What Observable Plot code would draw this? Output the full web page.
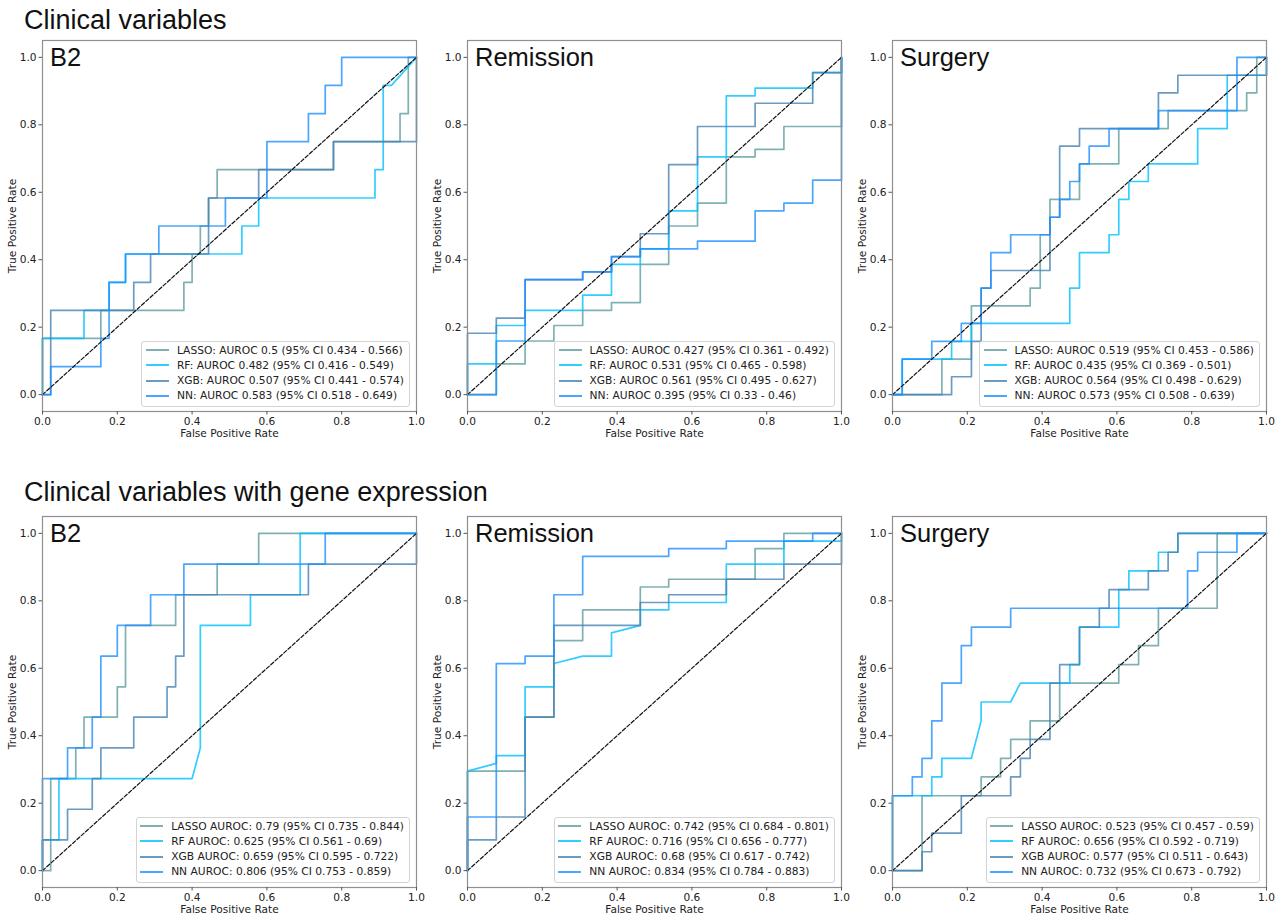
<!DOCTYPE html>
<html>
<head>
<meta charset="utf-8">
<script src="https://cdn.jsdelivr.net/npm/d3@7"></script>
<script src="https://cdn.jsdelivr.net/npm/@observablehq/plot@0.6"></script>
<style>
  body { margin: 0; background: #fff; }
  #root { position: relative; width: 1286px; height: 914px; overflow: hidden; background: #fff; font-family: "DejaVu Sans", sans-serif; }
  .sup { position: absolute; left: 24px; font-family: "Liberation Sans", Arial, sans-serif; font-size: 27px; line-height: 1; color: #111; white-space: nowrap; }
  .panel { position: absolute; }
  .panel svg { max-width: none; display: block; }
  .legend { position: absolute; background: rgba(255,255,255,0.85); border: 1px solid #d4d4d4; border-radius: 3px;
            padding: 1px 5px 2px 3.5px; font-family: "DejaVu Sans", sans-serif; font-size: 10.7px; line-height: 15.2px; color: #222; white-space: nowrap; }
  .legend .row { display: flex; align-items: center; }
  .legend .sw { width: 23px; height: 2px; opacity: 0.8; margin-right: 8px; }
</style>
</head>
<body>
<div id="root"></div>
<script>
// ---------- data ----------
const models = ["LASSO", "RF", "XGB", "NN"];
const modelColors = ["#5f9ea0", "#00bfff", "#4682b4", "#1e90ff"];
const rowTitles = ["Clinical variables", "Clinical variables with gene expression"];
const panelTitles = ["B2", "Remission", "Surgery"];
const ticks = [0, 0.2, 0.4, 0.6, 0.8, 1.0];
const diagonal = [[0, 0], [1, 1]];

// Clinical variables – B2
const clinB2Lasso = [[0,0],[0,.167],[.156,.167],[.156,.25],[.378,.25],[.378,.333],[.4,.333],[.4,.417],[.422,.417],[.422,.5],[.444,.5],[.444,.583],[.467,.583],[.467,.667],[.778,.667],[.778,.75],[.956,.75],[.956,.833],[.978,.833],[.978,1],[1,1]];
const clinB2Rf = [[0,0],[0,.167],[.111,.167],[.111,.25],[.178,.25],[.178,.333],[.222,.333],[.222,.417],[.533,.417],[.533,.5],[.578,.5],[.578,.583],[.889,.583],[.889,.667],[.911,.667],[.911,.917],[.933,.917],[1,1]];
const clinB2Xgb = [[0,0],[.022,0],[.022,.25],[.244,.25],[.244,.333],[.289,.333],[.289,.417],[.444,.417],[.444,.583],[.578,.583],[.578,.667],[.778,.667],[.778,.75],[1,.75],[1,1]];
const clinB2Nn = [[0,0],[.022,0],[.022,.083],[.156,.083],[.156,.167],[.178,.167],[.178,.333],[.222,.333],[.222,.417],[.311,.417],[.311,.5],[.489,.5],[.489,.583],[.6,.583],[.6,.75],[.711,.75],[.711,.833],[.756,.833],[.756,.917],[.8,.917],[.8,1],[1,1]];
const clinB2Legend = ["LASSO: AUROC 0.5 (95% CI 0.434 - 0.566)", "RF: AUROC 0.482 (95% CI 0.416 - 0.549)", "XGB: AUROC 0.507 (95% CI 0.441 - 0.574)", "NN: AUROC 0.583 (95% CI 0.518 - 0.649)"];

// Clinical variables – Remission
const clinRemLasso = [[0,0],[.077,0],[.077,.091],[.154,.091],[.154,.159],[.231,.159],[.231,.205],[.308,.205],[.308,.25],[.385,.25],[.385,.273],[.462,.273],[.462,.386],[.538,.386],[.538,.5],[.615,.5],[.615,.568],[.692,.568],[.692,.705],[.769,.705],[.769,.727],[.846,.727],[.846,.795],[1,.795],[1,1]];
const clinRemRf = [[0,0],[0,.091],[.077,.091],[.077,.205],[.154,.205],[.154,.25],[.308,.25],[.308,.295],[.385,.295],[.385,.386],[.462,.386],[.462,.432],[.538,.432],[.538,.545],[.615,.545],[.615,.705],[.692,.705],[.692,.886],[.769,.886],[.769,.909],[.923,.909],[.923,.955],[1,.955],[1,1]];
const clinRemXgb = [[0,0],[0,.182],[.077,.182],[.077,.227],[.154,.227],[.154,.341],[.308,.341],[.308,.364],[.385,.364],[.385,.409],[.462,.409],[.462,.477],[.538,.477],[.538,.682],[.615,.682],[.615,.795],[.769,.795],[.769,.864],[.923,.864],[.923,.955],[1,.955],[1,1]];
const clinRemNn = [[0,0],[.077,0],[.077,.159],[.154,.159],[.154,.341],[.308,.341],[.308,.364],[.385,.364],[.385,.409],[.462,.409],[.462,.432],[.615,.432],[.615,.455],[.769,.455],[.769,.545],[.846,.545],[.846,.568],[.923,.568],[.923,.636],[1,.636],[1,1]];
const clinRemLegend = ["LASSO: AUROC 0.427 (95% CI 0.361 - 0.492)", "RF: AUROC 0.531 (95% CI 0.465 - 0.598)", "XGB: AUROC 0.561 (95% CI 0.495 - 0.627)", "NN: AUROC 0.395 (95% CI 0.33 - 0.46)"];

// Clinical variables – Surgery
const clinSurLasso = [[0,0],[.132,0],[.132,.105],[.211,.105],[.211,.263],[.368,.263],[.368,.316],[.395,.316],[.395,.474],[.421,.474],[.421,.579],[.5,.579],[.5,.684],[.605,.684],[.605,.789],[.737,.789],[.737,.842],[.947,.842],[.947,.895],[.974,.895],[.974,1],[1,1]];
const clinSurRf = [[0,0],[.026,0],[.026,.105],[.158,.105],[.158,.158],[.211,.158],[.211,.211],[.474,.211],[.474,.316],[.5,.316],[.5,.421],[.579,.421],[.579,.474],[.605,.474],[.605,.579],[.632,.579],[.632,.632],[.684,.632],[.684,.684],[.816,.684],[.816,.789],[.895,.789],[.895,.947],[1,.947],[1,1]];
const clinSurXgb = [[0,0],[.158,0],[.158,.053],[.211,.053],[.211,.158],[.237,.158],[.237,.316],[.263,.316],[.263,.368],[.421,.368],[.421,.526],[.447,.526],[.447,.737],[.5,.737],[.5,.789],[.711,.789],[.711,.895],[.763,.895],[.763,.947],[1,.947],[1,1]];
const clinSurNn = [[0,0],[.026,0],[.026,.105],[.105,.105],[.105,.158],[.184,.158],[.184,.211],[.237,.211],[.237,.316],[.263,.316],[.263,.421],[.316,.421],[.316,.474],[.421,.474],[.421,.526],[.447,.526],[.447,.579],[.474,.579],[.474,.632],[.5,.632],[.5,.684],[.526,.684],[.526,.737],[.579,.737],[.579,.789],[.711,.789],[.711,.842],[.921,.842],[.921,1],[1,1]];
const clinSurLegend = ["LASSO: AUROC 0.519 (95% CI 0.453 - 0.586)", "RF: AUROC 0.435 (95% CI 0.369 - 0.501)", "XGB: AUROC 0.564 (95% CI 0.498 - 0.629)", "NN: AUROC 0.573 (95% CI 0.508 - 0.639)"];

// Clinical variables with gene expression – B2
const geneB2Lasso = [[0,0],[.022,0],[.022,.273],[.089,.273],[.089,.364],[.111,.364],[.111,.455],[.2,.455],[.2,.545],[.222,.545],[.222,.727],[.356,.727],[.356,.818],[.467,.818],[.467,.909],[.578,.909],[.578,1],[1,1]];
const geneB2Rf = [[0,0],[0,.091],[.044,.091],[.044,.273],[.4,.273],[.422,.364],[.422,.727],[.556,.727],[.556,.818],[.689,.818],[.689,1],[1,1]];
const geneB2Xgb = [[0,0],[0,.091],[.067,.091],[.067,.182],[.133,.182],[.133,.273],[.156,.273],[.156,.364],[.244,.364],[.244,.455],[.333,.455],[.333,.545],[.356,.545],[.356,.636],[.378,.636],[.378,.818],[.711,.818],[.711,.909],[1,.909],[1,1]];
const geneB2Nn = [[0,0],[0,.273],[.067,.273],[.067,.364],[.133,.364],[.133,.455],[.156,.455],[.156,.636],[.2,.636],[.2,.727],[.289,.727],[.289,.818],[.378,.818],[.378,.909],[.756,.909],[.756,1],[1,1]];
const geneB2Legend = ["LASSO AUROC: 0.79 (95% CI 0.735 - 0.844)", "RF AUROC: 0.625 (95% CI 0.561 - 0.69)", "XGB AUROC: 0.659 (95% CI 0.595 - 0.722)", "NN AUROC: 0.806 (95% CI 0.753 - 0.859)"];

// Clinical variables with gene expression – Remission
const geneRemLasso = [[0,0],[0,.295],[.154,.295],[.154,.455],[.231,.455],[.231,.682],[.308,.682],[.308,.773],[.462,.773],[.462,.841],[.538,.841],[.538,.864],[.769,.864],[.769,.955],[.846,.955],[.846,1],[1,1]];
const geneRemRf = [[0,0],[0,.295],[.077,.318],[.077,.341],[.154,.341],[.154,.545],[.231,.545],[.231,.614],[.308,.636],[.385,.636],[.385,.705],[.462,.727],[.462,.773],[.538,.773],[.538,.795],[.692,.795],[.692,.909],[.846,.909],[.846,.977],[1,.977],[1,1]];
const geneRemXgb = [[0,0],[0,.091],[.077,.091],[.077,.159],[.154,.159],[.154,.455],[.231,.455],[.231,.727],[.462,.727],[.462,.795],[.538,.795],[.538,.818],[.692,.818],[.692,.864],[.846,.864],[.846,.909],[1,.909],[1,1]];
const geneRemNn = [[0,0],[0,.159],[.077,.159],[.077,.614],[.154,.614],[.154,.636],[.231,.636],[.231,.818],[.308,.818],[.308,.932],[.538,.932],[.538,.955],[.692,.955],[.692,.977],[.923,.977],[.923,1],[1,1]];
const geneRemLegend = ["LASSO AUROC: 0.742 (95% CI 0.684 - 0.801)", "RF AUROC: 0.716 (95% CI 0.656 - 0.777)", "XGB AUROC: 0.68 (95% CI 0.617 - 0.742)", "NN AUROC: 0.834 (95% CI 0.784 - 0.883)"];

// Clinical variables with gene expression – Surgery
const geneSurLasso = [[0,0],[.079,0],[.079,.222],[.237,.222],[.237,.278],[.289,.278],[.289,.333],[.316,.333],[.316,.389],[.368,.389],[.368,.444],[.447,.444],[.447,.556],[.605,.556],[.605,.611],[.658,.611],[.658,.667],[.711,.667],[.711,.778],[.868,.778],[.868,1],[1,1]];
const geneSurRf = [[0,0],[0,.222],[.105,.222],[.105,.278],[.132,.278],[.132,.333],[.211,.333],[.237,.444],[.237,.5],[.316,.5],[.342,.556],[.474,.556],[.474,.611],[.5,.611],[.5,.722],[.605,.722],[.605,.833],[.632,.833],[.632,.889],[.711,.889],[.711,.944],[.763,.944],[.763,1],[1,1]];
const geneSurXgb = [[0,0],[.079,0],[.079,.056],[.105,.056],[.105,.111],[.184,.111],[.184,.222],[.316,.222],[.316,.278],[.342,.278],[.342,.333],[.368,.333],[.368,.389],[.421,.389],[.421,.556],[.447,.556],[.447,.611],[.5,.611],[.5,.722],[.553,.722],[.553,.778],[.579,.778],[.579,.833],[.684,.833],[.684,.889],[.737,.889],[.737,.944],[.763,.944],[.763,1],[1,1]];
const geneSurNn = [[0,0],[0,.222],[.053,.222],[.053,.278],[.079,.278],[.079,.333],[.105,.333],[.105,.444],[.132,.444],[.132,.556],[.184,.556],[.184,.667],[.211,.667],[.211,.722],[.316,.722],[.316,.778],[.789,.778],[.789,.889],[.816,.889],[.816,.944],[.921,.944],[.921,1],[1,1]];
const geneSurLegend = ["LASSO AUROC: 0.523 (95% CI 0.457 - 0.59)", "RF AUROC: 0.656 (95% CI 0.592 - 0.719)", "XGB AUROC: 0.577 (95% CI 0.511 - 0.643)", "NN AUROC: 0.732 (95% CI 0.673 - 0.792)"];

// ---------- layout ----------
const frameLefts = [42, 467, 892];
const frameTops = [40, 516];
const frameW = 374, frameH = 371;
const mL = 42, mR = 10, mT = 2, mB = 45;

const panels = [
  {row: 0, col: 0, curves: [clinB2Lasso, clinB2Rf, clinB2Xgb, clinB2Nn], legend: clinB2Legend},
  {row: 0, col: 1, curves: [clinRemLasso, clinRemRf, clinRemXgb, clinRemNn], legend: clinRemLegend},
  {row: 0, col: 2, curves: [clinSurLasso, clinSurRf, clinSurXgb, clinSurNn], legend: clinSurLegend},
  {row: 1, col: 0, curves: [geneB2Lasso, geneB2Rf, geneB2Xgb, geneB2Nn], legend: geneB2Legend},
  {row: 1, col: 1, curves: [geneRemLasso, geneRemRf, geneRemXgb, geneRemNn], legend: geneRemLegend},
  {row: 1, col: 2, curves: [geneSurLasso, geneSurRf, geneSurXgb, geneSurNn], legend: geneSurLegend}
];

const root = document.getElementById("root");

// row titles (baselines at y=30 and y=501.7)
[7.2, 478.9].forEach((top, i) => {
  const d = document.createElement("div");
  d.className = "sup";
  d.style.top = top + "px";
  d.textContent = rowTitles[i];
  root.appendChild(d);
});

panels.forEach(p => {
  const fl = frameLefts[p.col], ft = frameTops[p.row];
  const curveMarks = p.curves.map((c, i) =>
    Plot.line(c, {x: d => d[0], y: d => d[1], stroke: modelColors[i], strokeWidth: 1.7, strokeOpacity: 0.8})
  );
  const chart = Plot.plot({
    width: mL + frameW + mR,
    height: mT + frameH + mB,
    marginLeft: mL, marginRight: mR, marginTop: mT, marginBottom: mB,
    x: {domain: [0, 1]},
    y: {domain: [-0.05, 1.05]},
    style: {fontFamily: "DejaVu Sans, sans-serif", fontSize: "10.6px", color: "#222", background: "transparent", overflow: "visible"},
    marks: [
      ...curveMarks,
      Plot.line(diagonal, {x: d => d[0], y: d => d[1], stroke: "#111", strokeWidth: 1.2, strokeDasharray: "3.8,2"}),
      Plot.frame({stroke: "#8f8f8f", strokeWidth: 1.2}),
      Plot.axisX({ticks: ticks, tickFormat: d3.format(".1f"), tickSize: 3.5, tickPadding: 2.5, label: null, stroke: "#555", fill: "#222"}),
      Plot.axisY({ticks: ticks, tickFormat: d3.format(".1f"), tickSize: 3.5, tickPadding: 2.5, label: null, stroke: "#555", fill: "#222"}),
      Plot.text(["False Positive Rate"], {text: d => d, frameAnchor: "bottom", dy: 22, lineAnchor: "middle", textAnchor: "middle", fill: "#222"}),
      Plot.text(["True Positive Rate"], {text: d => d, frameAnchor: "left", dx: -30, rotate: -90, textAnchor: "middle", lineAnchor: "middle", fill: "#222"}),
      Plot.text([panelTitles[p.col]], {text: d => d, frameAnchor: "top-left", dx: 7.5, dy: 25.5, lineAnchor: "bottom", textAnchor: "start",
        fontSize: 25.5, fontFamily: "Liberation Sans, Arial, sans-serif", fill: "#111"})
    ]
  });
  const wrap = document.createElement("div");
  wrap.className = "panel";
  wrap.style.left = (fl - mL) + "px";
  wrap.style.top = (ft - mT) + "px";
  wrap.appendChild(chart);
  root.appendChild(wrap);

  // legend (lower right inside the frame)
  const lg = document.createElement("div");
  lg.className = "legend";
  lg.style.right = (1286 - (fl + frameW - 6)) + "px";
  lg.style.bottom = (914 - (ft + frameH - 4.5)) + "px";
  p.legend.forEach((label, i) => {
    const row = document.createElement("div");
    row.className = "row";
    const sw = document.createElement("span");
    sw.className = "sw";
    sw.style.background = modelColors[i];
    const t = document.createElement("span");
    t.textContent = label;
    row.appendChild(sw);
    row.appendChild(t);
    lg.appendChild(row);
  });
  root.appendChild(lg);
});
</script>
</body>
</html>
